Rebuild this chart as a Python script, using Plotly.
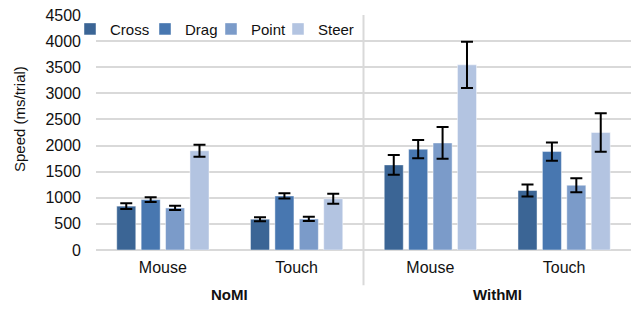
import plotly.graph_objects as go

categories = ["Mouse", "Touch", "Mouse", "Touch"]
groups = ["NoMI", "WithMI"]
series = ["Cross", "Drag", "Point", "Steer"]
cross = [840, 590, 1630, 1140]
drag = [965, 1035, 1930, 1885]
point = [805, 595, 2050, 1240]
steer = [1900, 980, 3545, 2250]
cross_err = [55, 38, 190, 115]
drag_err = [45, 50, 175, 175]
point_err = [40, 40, 305, 135]
steer_err = [115, 95, 445, 370]
colors = ["#3b6595", "#4877b0", "#7b9bc9", "#b3c4e1"]
y_title = "Speed (ms/trial)"

values = [cross, drag, point, steer]
errors = [cross_err, drag_err, point_err, steer_err]
xpos = list(range(len(categories)))

PLOT_L, PLOT_W, PLOT_T, PLOT_H = 96, 535, 15, 235
legend_text_px = [110, 185, 251, 318]
legend_names = ["legend", "legend2", "legend3", "legend4"]

fig = go.Figure()
for name, vals, errs, col, lg in zip(series, values, errors, colors, legend_names):
    fig.add_trace(go.Bar(
        name=name, x=xpos, y=vals, marker_color=col,
        marker_line=dict(color="rgba(255,255,255,0.45)", width=1),
        error_y=dict(type="data", array=errs, color="black", thickness=2, width=6),
        legend=lg,
    ))

layout_legends = {}
for lg, tx in zip(legend_names, legend_text_px):
    layout_legends[lg] = dict(
        orientation="h", x=(tx - 40 - PLOT_L) / PLOT_W, y=1.01,
        xanchor="left", yanchor="top", bgcolor="rgba(0,0,0,0)",
        font=dict(size=15), itemwidth=30,
    )

fig.update_layout(
    width=631, height=310,
    margin=dict(l=96, r=0, t=15, b=60, autoexpand=False),
    barmode="group", bargap=0.27, bargroupgap=0.22,
    plot_bgcolor="white", paper_bgcolor="white",
    font=dict(family="Liberation Sans, Arial, sans-serif", size=15, color="#111"),
    showlegend=True,
    **layout_legends,
)
fig.update_xaxes(
    tickmode="array", tickvals=xpos, ticktext=categories,
    range=[-0.5, len(categories) - 0.5], showgrid=False, zeroline=False,
    showline=False, tickfont=dict(size=16), ticklabelstandoff=6, automargin=False,
)
fig.update_yaxes(
    range=[0, 4500], dtick=500, showgrid=True, gridcolor="#d9d9d9", gridwidth=2,
    zeroline=True, zerolinecolor="#d9d9d9", zerolinewidth=2,
    tickfont=dict(size=16), ticklabelstandoff=14, automargin=False,
)

# y-axis title
fig.add_annotation(text=y_title, xref="paper", yref="paper",
                   x=(19 - PLOT_L) / PLOT_W, y=(PLOT_T + PLOT_H - 119) / PLOT_H,
                   xanchor="center", yanchor="middle",
                   textangle=-90, showarrow=False, font=dict(size=15, color="#111"))

# separator between groups
fig.add_shape(type="line", xref="x", yref="paper", x0=1.5, x1=1.5, y0=1.0, y1=-0.15,
              line=dict(color="#d9d9d9", width=2))
for i, g in enumerate(groups):
    fig.add_annotation(text="<b>" + g + "</b>", xref="x", yref="paper",
                       x=2 * i + 0.5, y=0, yshift=-55, showarrow=False,
                       font=dict(size=15, color="#111"))

fig.write_html("out.html", config={"displayModeBar": False},
               post_script="document.body.style.margin='0';document.body.style.padding='0';document.body.style.overflow='hidden';")
